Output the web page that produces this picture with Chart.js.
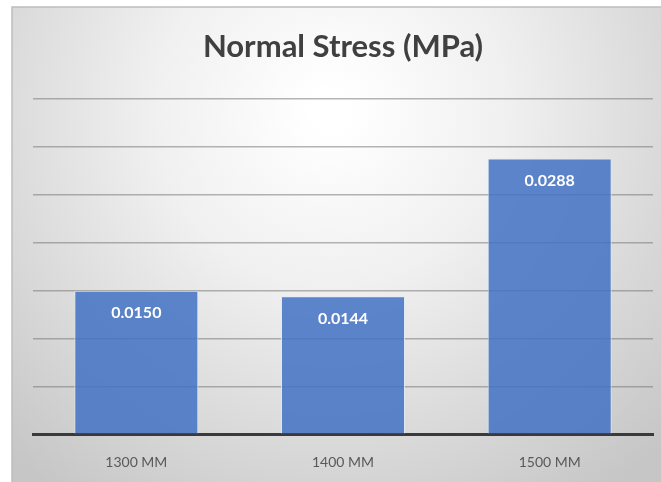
<!DOCTYPE html>
<html>
<head>
<meta charset="utf-8">
<script src="https://cdn.jsdelivr.net/npm/chart.js@4/dist/chart.umd.min.js"></script>
<style>
  html, body { margin: 0; padding: 0; background: #ffffff; }
  #wrap { width: 661px; height: 482px; position: relative; }
</style>
</head>
<body>
<div id="wrap"><canvas id="c" width="661" height="482"></canvas></div>
<script>
// Chart data
const categories = ['1300 MM', '1400 MM', '1500 MM'];
const stressValues = [0.0150, 0.0144, 0.0288];
const valueLabels = ['0.0150', '0.0144', '0.0288'];
const chartTitle = 'Normal Stress (MPa)';

// Grey radial backdrop behind the whole chart
const backdrop = {
  id: 'backdrop',
  beforeDraw(chart) {
    const ctx = chart.ctx;
    const x0 = 12, y0 = 7, w = chart.width - x0, h = chart.height - y0;
    ctx.save();
    const g = ctx.createRadialGradient(330, 110, 20, 330, 110, 470);
    g.addColorStop(0, '#ffffff');
    g.addColorStop(0.35, '#f0f0f0');
    g.addColorStop(1, '#c6c6c6');
    ctx.fillStyle = g;
    ctx.fillRect(x0, y0, w, h);
    ctx.strokeStyle = '#bdbdbd';
    ctx.lineWidth = 1.5;
    ctx.beginPath();
    ctx.moveTo(x0, chart.height);
    ctx.lineTo(x0, y0);
    ctx.lineTo(chart.width, y0);
    ctx.stroke();
    ctx.restore();
  }
};

// White value labels inside the top of each bar
const barLabels = {
  id: 'barLabels',
  afterDatasetsDraw(chart) {
    const ctx = chart.ctx;
    const meta = chart.getDatasetMeta(0);
    ctx.save();
    ctx.fillStyle = '#ffffff';
    ctx.font = 'bold 16px Lato, "Open Sans", sans-serif';
    ctx.textAlign = 'center';
    ctx.textBaseline = 'middle';
    meta.data.forEach((bar, i) => {
      ctx.fillText(valueLabels[i], bar.x, bar.y + 22);
    });
    ctx.restore();
  }
};

new Chart(document.getElementById('c'), {
  type: 'bar',
  data: {
    labels: categories,
    datasets: [{
      data: stressValues,
      backgroundColor: 'rgba(68,114,196,0.86)',
      borderColor: 'rgba(225,232,245,0.85)',
      borderWidth: 1,
      barPercentage: 1,
      categoryPercentage: 0.6
    }]
  },
  options: {
    responsive: false,
    animation: false,
    layout: { padding: { left: 33, right: 8, top: 0, bottom: -1 } },
    plugins: {
      legend: { display: false },
      tooltip: { enabled: false },
      title: {
        display: true,
        text: chartTitle,
        color: '#404040',
        font: { family: 'Lato, "Open Sans", sans-serif', size: 31, weight: 'bold' },
        padding: { top: 28, bottom: 34 }
      }
    },
    scales: {
      x: {
        grid: { display: false },
        border: { display: true, color: '#3a3a3a', width: 3 },
        ticks: { color: '#595959', font: { family: 'Lato, "Open Sans", sans-serif', size: 14 }, padding: 12 }
      },
      y: {
        min: 0,
        max: 0.035,
        ticks: { display: false, stepSize: 0.005 },
        border: { display: false },
        grid: { color: 'rgba(120,120,120,0.55)', lineWidth: 1.5, drawTicks: false },
        afterFit(scale) { scale.width = 0; }
      }
    }
  },
  plugins: [backdrop, barLabels]
});
</script>
</body>
</html>
